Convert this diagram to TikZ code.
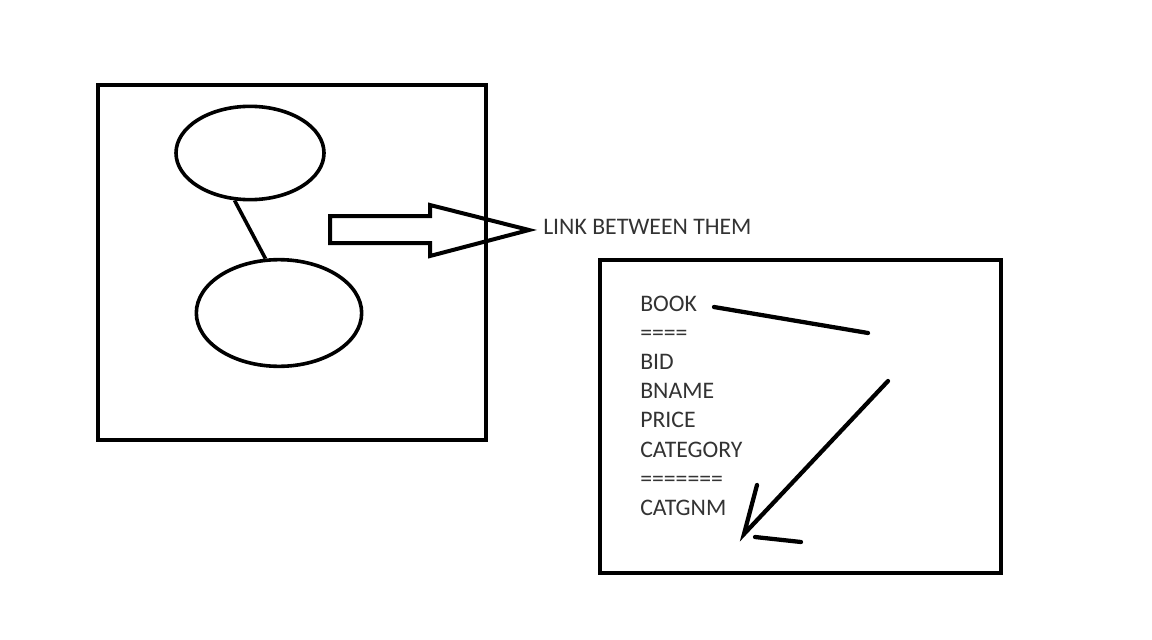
\documentclass[tikz,border=0pt]{standalone}
\usepackage{fontspec}
\setmainfont{Carlito}
\usetikzlibrary{shapes.geometric}
\definecolor{txt}{HTML}{333333}
\begin{document}
\begin{tikzpicture}[x=0.75pt,y=-0.75pt,
  thick line/.style={line width=3pt,black},
  oval/.style={ellipse,draw,line width=2.7pt,inner sep=0pt},
  label text/.style={font=\fontsize{17.8pt}{21pt}\selectfont,text=txt,inner sep=0pt,anchor=base west},
  stroke/.style={line width=3.2pt,line cap=round,black}]
\useasboundingbox (0,0) rectangle (1152,639);
\fill[white] (0,0) rectangle (1152,639);
% left box
\draw[thick line] (98,85) rectangle (486,440);
\node[oval,minimum width=111pt,minimum height=70pt] (e1) at (250,153) {};
\node[oval,minimum width=124pt,minimum height=80pt] (e2) at (279,313) {};
\draw[line width=2.7pt] (e1.-108) -- (e2.104);
% block arrow
\coordinate (a1) at (330,216);
\coordinate (a2) at (430,216);
\coordinate (a3) at (430,205);
\coordinate (tip) at (529,230);
\coordinate (a5) at (430,256);
\coordinate (a6) at (430,243);
\coordinate (a7) at (330,243);
\draw[line width=3pt,line join=miter] (a1) -- (a2) -- (a3) -- (tip) -- (a5) -- (a6) -- (a7) -- cycle;
\node[label text] (link) at (543,234) {LINK BETWEEN THEM};
% right box
\draw[thick line] (600,260) rectangle (1001,573);
\node[label text] (l1) at (640,311) {BOOK};
\node[label text] (l2) at (640,340) {====};
\node[label text] (l3) at (640,369) {BID};
\node[label text] (l4) at (640,398) {BNAME};
\node[label text] (l5) at (640,427) {PRICE};
\node[label text] (l6) at (640,457) {CATEGORY};
\node[label text] (l7) at (640,486) {=======};
\node[label text] (l8) at (640,515) {CATGNM};
% hand-drawn strokes
\coordinate (s1) at (714,307);
\coordinate (s2) at (868,333);
\coordinate (b1) at (888,381);
\coordinate (b2) at (744,534);
\coordinate (h1) at (757,485);
\coordinate (h2) at (755,537);
\coordinate (h3) at (801,542);
\draw[stroke] (s1) -- (s2);
\draw[stroke] (b1) -- (b2) -- (h1);
\draw[stroke] (h2) -- (h3);
\end{tikzpicture}
\end{document}
